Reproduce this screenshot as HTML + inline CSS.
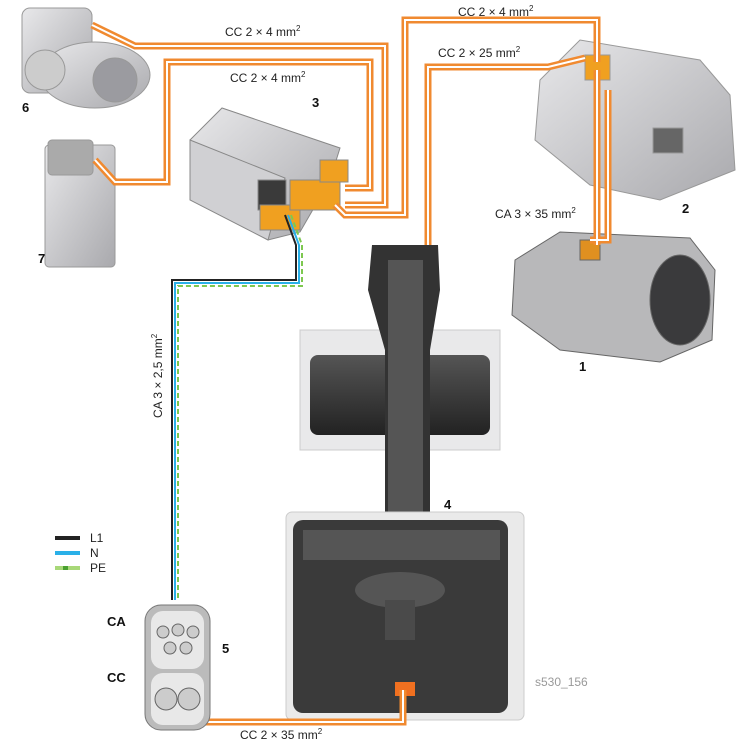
<!DOCTYPE html>
<html><head><style>
body{margin:0;background:#fff;}
svg{display:block;font-family:"Liberation Sans",sans-serif;}
.l{font-size:12px;fill:#222;}
.n{font-size:13px;font-weight:bold;fill:#111;}
</style></head><body>
<svg width="750" height="747" viewBox="0 0 750 747">
<defs>
<linearGradient id="g1" x1="0" y1="0" x2="1" y2="1"><stop offset="0" stop-color="#e8e8ea"/><stop offset="1" stop-color="#a9a9ad"/></linearGradient>
<linearGradient id="g2" x1="0" y1="0" x2="0" y2="1"><stop offset="0" stop-color="#555"/><stop offset="1" stop-color="#222"/></linearGradient>
</defs>
<g fill="url(#g1)" stroke="#999" stroke-width="1">
<rect x="22" y="8" width="70" height="85" rx="8"/>
<ellipse cx="95" cy="75" rx="55" ry="33"/>
<circle cx="45" cy="70" r="20" fill="#ccc"/>
<circle cx="115" cy="80" r="22" fill="#9b9ba0"/>
</g>
<g fill="url(#g1)" stroke="#999">
<rect x="45" y="145" width="70" height="122" rx="4"/>
<rect x="48" y="140" width="45" height="35" rx="4" fill="#aaa"/>
</g>
<g stroke="#888">
<polygon points="190,140 222,108 340,148 330,180 300,232 268,240 190,195" fill="url(#g1)"/>
<polygon points="190,140 285,178 268,240 190,200" fill="#d0d0d3"/>
<rect x="258" y="180" width="28" height="30" fill="#3a3a3a"/>
<rect x="260" y="205" width="40" height="25" fill="#f0a020"/>
<rect x="290" y="180" width="50" height="30" fill="#f0a020"/>
<rect x="320" y="160" width="28" height="22" fill="#f0a020"/>
</g>
<g stroke="#999">
<polygon points="540,80 580,40 700,60 730,95 735,170 660,200 590,185 535,140" fill="url(#g1)"/>
<rect x="653" y="128" width="30" height="25" fill="#666"/>
<rect x="585" y="55" width="25" height="25" fill="#f0a020"/>
</g>
<g stroke="#666">
<polygon points="515,260 560,232 690,238 715,270 712,340 660,362 560,350 512,315" fill="#b8b8ba"/>
<ellipse cx="680" cy="300" rx="30" ry="45" fill="#3a3a3c"/>
<rect x="580" y="240" width="20" height="20" fill="#e09020"/>
</g>
<g>
<rect x="300" y="330" width="200" height="120" fill="#e9e9ea" stroke="#ccc"/>
<rect x="310" y="355" width="180" height="80" rx="8" fill="url(#g2)"/>
<polygon points="372,245 438,245 440,290 430,350 430,530 385,530 385,350 368,290" fill="#333"/>
<rect x="388" y="260" width="35" height="260" fill="#555"/>
<rect x="286" y="512" width="238" height="208" rx="6" fill="#eaeaea" stroke="#ccc"/>
<rect x="293" y="520" width="215" height="193" rx="10" fill="#3a3a3a"/>
<rect x="303" y="530" width="197" height="30" fill="#555"/>
<ellipse cx="400" cy="590" rx="45" ry="18" fill="#555"/>
<rect x="385" y="600" width="30" height="40" fill="#4a4a4a"/>
<rect x="395" y="682" width="20" height="14" fill="#f07020"/>
</g>
<g fill="none" stroke-linejoin="miter">
<g stroke="#f08a30" stroke-width="7">
<polyline points="92,25 135,46 385,46 385,205 345,205"/>
<polyline points="95,160 115,182 167,182 167,62 370,62 370,188 345,188"/>
<polyline points="335,205 345,215 405,215 405,20 597,20 597,62"/>
<polyline points="428,245 428,67 548,67 585,58"/>
<polyline points="597,70 597,245"/>
<polyline points="608,90 608,240 590,240"/>
<polyline points="175,698 175,722 403,722 403,690"/>
</g>
<g stroke="#fff" stroke-width="2">
<polyline points="92,25 135,46 385,46 385,205 345,205"/>
<polyline points="95,160 115,182 167,182 167,62 370,62 370,188 345,188"/>
<polyline points="335,205 345,215 405,215 405,20 597,20 597,62"/>
<polyline points="428,245 428,67 548,67 585,58"/>
<polyline points="597,70 597,245"/>
<polyline points="608,90 608,240 590,240"/>
<polyline points="175,698 175,722 403,722 403,690"/>
</g>
<polyline points="285,215 296,245 296,280 172,280 172,600" stroke="#222" stroke-width="2"/>
<polyline points="288,215 299,245 299,283 175,283 175,600" stroke="#2ab0e8" stroke-width="2"/>
<polyline points="291,215 302,245 302,286 178,286 178,600" stroke="#7ec850" stroke-width="2" stroke-dasharray="5,3"/>
</g>
<rect x="145" y="605" width="65" height="125" rx="16" fill="#bbb" stroke="#777"/>
<rect x="151" y="611" width="53" height="58" rx="12" fill="#e8e8e8"/>
<rect x="151" y="673" width="53" height="52" rx="12" fill="#e8e8e8"/>
<g fill="#ccc" stroke="#666">
<circle cx="163" cy="632" r="6"/><circle cx="178" cy="630" r="6"/><circle cx="193" cy="632" r="6"/>
<circle cx="170" cy="648" r="6"/><circle cx="186" cy="648" r="6"/>
<circle cx="166" cy="699" r="11"/><circle cx="189" cy="699" r="11"/>
</g>
<text class="l" x="225" y="36">CC 2 × 4 mm<tspan dy="-5" font-size="8">2</tspan></text>
<text class="l" x="230" y="82">CC 2 × 4 mm<tspan dy="-5" font-size="8">2</tspan></text>
<text class="l" x="458" y="16">CC 2 × 4 mm<tspan dy="-5" font-size="8">2</tspan></text>
<text class="l" x="438" y="57">CC 2 × 25 mm<tspan dy="-5" font-size="8">2</tspan></text>
<text class="l" x="495" y="218">CA 3 × 35 mm<tspan dy="-5" font-size="8">2</tspan></text>
<text class="l" x="240" y="739">CC 2 × 35 mm<tspan dy="-5" font-size="8">2</tspan></text>
<text class="l" transform="translate(162,418) rotate(-90)">CA 3 × 2,5 mm<tspan dy="-5" font-size="8">2</tspan></text>
<text class="n" x="22" y="112">6</text>
<text class="n" x="38" y="263">7</text>
<text class="n" x="312" y="107">3</text>
<text class="n" x="682" y="213">2</text>
<text class="n" x="579" y="371">1</text>
<text class="n" x="444" y="509">4</text>
<text class="n" x="222" y="653">5</text>
<text class="n" x="107" y="626">CA</text>
<text class="n" x="107" y="682">CC</text>
<text x="535" y="686" font-size="12" fill="#999">s530_156</text>
<rect x="55" y="536" width="25" height="4" fill="#222"/>
<rect x="55" y="551" width="25" height="4" fill="#2ab0e8"/>
<rect x="55" y="566" width="25" height="4" fill="#a8d878"/>
<rect x="63" y="566" width="5" height="4" fill="#4aa030"/>
<text class="l" x="90" y="542">L1</text>
<text class="l" x="90" y="557">N</text>
<text class="l" x="90" y="572">PE</text>
</svg>
</body></html>
